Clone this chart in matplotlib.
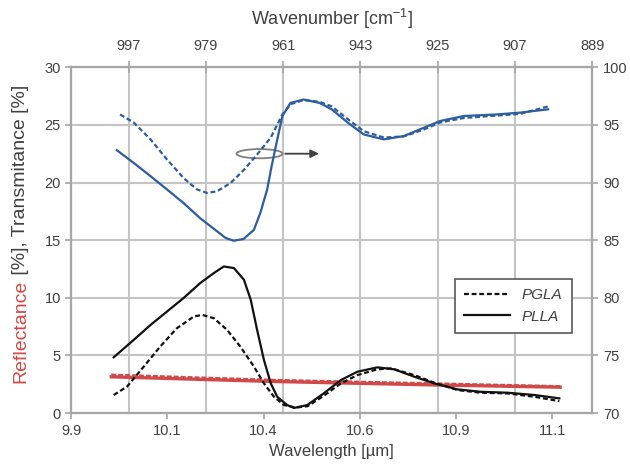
import numpy as np
import matplotlib.pyplot as plt
from matplotlib.patches import Ellipse
from matplotlib.ticker import FormatStrFormatter

plt.rcParams['font.family'] = ['Liberation Sans', 'DejaVu Sans']
plt.rcParams['lines.scale_dashes'] = False
plt.rcParams['mathtext.default'] = 'regular'

# transmittance, right axis [%]
t_plla_x = [10.014, 10.056, 10.098, 10.139, 10.181, 10.222, 10.264, 10.285, 10.305, 10.33,
            10.356, 10.372, 10.389, 10.400, 10.414, 10.427, 10.447, 10.48, 10.52, 10.55,
            10.59, 10.63, 10.68, 10.73, 10.78, 10.82, 10.88, 10.96, 11.02, 11.09]
t_plla = [92.8, 91.7, 90.55, 89.4, 88.2, 86.9, 85.77, 85.2, 84.95, 85.1,
          85.9, 87.37, 89.4, 91.4, 93.7, 95.77, 96.9, 97.2, 96.9, 96.35,
          95.2, 94.17, 93.74, 94.03, 94.75, 95.33, 95.77, 95.9, 96.06, 96.35]

t_pgla_x = [10.022, 10.056, 10.098, 10.139, 10.18, 10.214, 10.239, 10.264, 10.298, 10.331,
            10.364, 10.398, 10.427, 10.448, 10.48, 10.52, 10.55, 10.59, 10.63, 10.68,
            10.73, 10.78, 10.82, 10.88, 10.96, 11.02, 11.09]
t_pgla = [95.9, 95.2, 93.74, 92.0, 90.4, 89.4, 89.1, 89.24, 89.97, 91.1,
          92.43, 93.9, 95.9, 96.8, 97.15, 97.0, 96.6, 95.5, 94.45, 93.9,
          94.0, 94.6, 95.2, 95.6, 95.8, 95.95, 96.6]

# left axis [%]
r_plla_x = [10.006, 10.056, 10.098, 10.139, 10.18, 10.222, 10.256, 10.281, 10.306, 10.331,
            10.348, 10.364, 10.381, 10.398, 10.414, 10.439, 10.456, 10.489, 10.53, 10.573,
            10.614, 10.664, 10.706, 10.756, 10.806, 10.864, 10.922, 10.989, 11.056, 11.118]
r_plla = [4.84, 6.35, 7.65, 8.81, 9.97, 11.28, 12.15, 12.72, 12.58, 11.57,
          9.83, 7.2, 4.6, 2.58, 1.42, 0.70, 0.45, 0.70, 1.71, 2.87,
          3.59, 3.97, 3.80, 3.16, 2.58, 2.06, 1.85, 1.77, 1.57, 1.28]

r_pgla_x = [10.006, 10.039, 10.081, 10.122, 10.164, 10.206, 10.227, 10.256, 10.289, 10.322,
            10.356, 10.381, 10.406, 10.431, 10.46, 10.49, 10.53, 10.573, 10.614, 10.664,
            10.698, 10.756, 10.806, 10.864, 10.922, 10.989, 11.056, 11.118]
r_pgla = [1.57, 2.29, 4.03, 5.77, 7.37, 8.38, 8.52, 8.23, 7.22, 5.77,
          4.03, 2.58, 1.42, 0.70, 0.48, 0.6, 1.5, 2.58, 3.3, 3.8,
          3.88, 3.3, 2.64, 2.0, 1.77, 1.71, 1.42, 1.04]

# reflectance (red)
refl_x = [10.0, 10.4, 10.8, 11.12]
refl_pgla = [3.3, 2.85, 2.55, 2.3]
refl_plla = [3.15, 2.75, 2.45, 2.25]

wl_ticks = [9.9, 10.14, 10.38, 10.62, 10.86, 11.1]
wn_ticks = [997, 979, 961, 943, 925, 907, 889]

txt = '#404040'
grid_c = '#c4c4c4'
blue = '#2d5d9f'
red = '#d04848'

fig = plt.figure(figsize=(6.3, 4.7), dpi=100)
ax = fig.add_axes([0.113, 0.121, 0.827, 0.736])
axt = ax.twiny()
axr = ax.twinx()

axt.set_zorder(0)
ax.set_zorder(1)
axr.set_zorder(2)
ax.patch.set_visible(False)
axr.patch.set_visible(False)

# left / bottom
ax.plot(refl_x, refl_plla, color=red, lw=2.4)
ax.plot(refl_x, refl_pgla, color=red, lw=2.2, dashes=(3.5, 1.5))
ax.plot(r_plla_x, r_plla, color='#111111', lw=1.6)
ax.plot(r_pgla_x, r_pgla, color='#111111', lw=1.6, dashes=(3.5, 2))
ax.set_xlim(9.9, 11.2)
ax.set_ylim(0, 30)
ax.set_xticks(wl_ticks)
ax.xaxis.set_major_formatter(FormatStrFormatter('%.1f'))
ax.set_yticks([0, 5, 10, 15, 20, 25, 30])
ax.grid(axis='y', color=grid_c, lw=1.5)
ax.set_axisbelow(True)
ax.set_xlabel('Wavelength [µm]', fontsize=12, color=txt, labelpad=4)

# right: transmittance
axr.plot(t_plla_x, t_plla, color=blue, lw=1.6)
axr.plot(t_pgla_x, t_pgla, color=blue, lw=1.6, dashes=(3.5, 2))
axr.set_ylim(70, 100)
axr.set_yticks([70, 75, 80, 85, 90, 95, 100])

# top: wavenumber
axt.set_xlim(1010.4, 889)
axt.set_xticks(wn_ticks)
axt.grid(axis='x', color=grid_c, lw=1.5)
axt.set_xlabel('Wavenumber [cm$^{-1}$]', fontsize=13, color=txt, labelpad=10)

for a in (ax, axr, axt):
    for s in a.spines.values():
        s.set_color('#a6a6a6')
        s.set_linewidth(1.5)
    a.tick_params(colors='#a6a6a6', labelcolor=txt, labelsize=10.5, width=1.2, length=4)
axt.tick_params(axis='x', direction='inout', length=8, pad=6)
ax.tick_params(axis='x', pad=4)
axr.tick_params(axis='y', pad=4)

# y label in two colours
t1 = fig.text(0.033, 0.185, 'Reflectance', rotation=90, color=red, fontsize=14,
              ha='center', va='bottom')
ax.annotate(' [%], Transmitance [%]', xy=(0.5, 1), xycoords=t1, rotation=90,
            color=txt, fontsize=14, ha='center', va='bottom')

# ellipse + arrow pointing to the right axis
ax.add_patch(Ellipse((10.37, 22.5), 0.115, 0.8, fill=False, ec='#7f7f7f', lw=1.3, zorder=5))
ax.annotate('', xy=(10.525, 22.5), xytext=(10.427, 22.5),
            arrowprops=dict(arrowstyle='-|>', color='#404040', lw=1.3, mutation_scale=12))

# legend
h1, = ax.plot([], [], color='#111111', lw=1.6, dashes=(3.5, 2), label='PGLA')
h2, = ax.plot([], [], color='#111111', lw=1.6, label='PLLA')
leg = ax.legend(handles=[h1, h2], loc='upper right', bbox_to_anchor=(0.975, 0.41),
                fancybox=False, framealpha=1, edgecolor='#595959', handlelength=3.0,
                prop={'style': 'italic', 'size': 11}, borderpad=0.6, labelspacing=0.5)
leg.get_frame().set_linewidth(1.2)
for t in leg.get_texts():
    t.set_color(txt)

fig.savefig('out.png', dpi=100)
